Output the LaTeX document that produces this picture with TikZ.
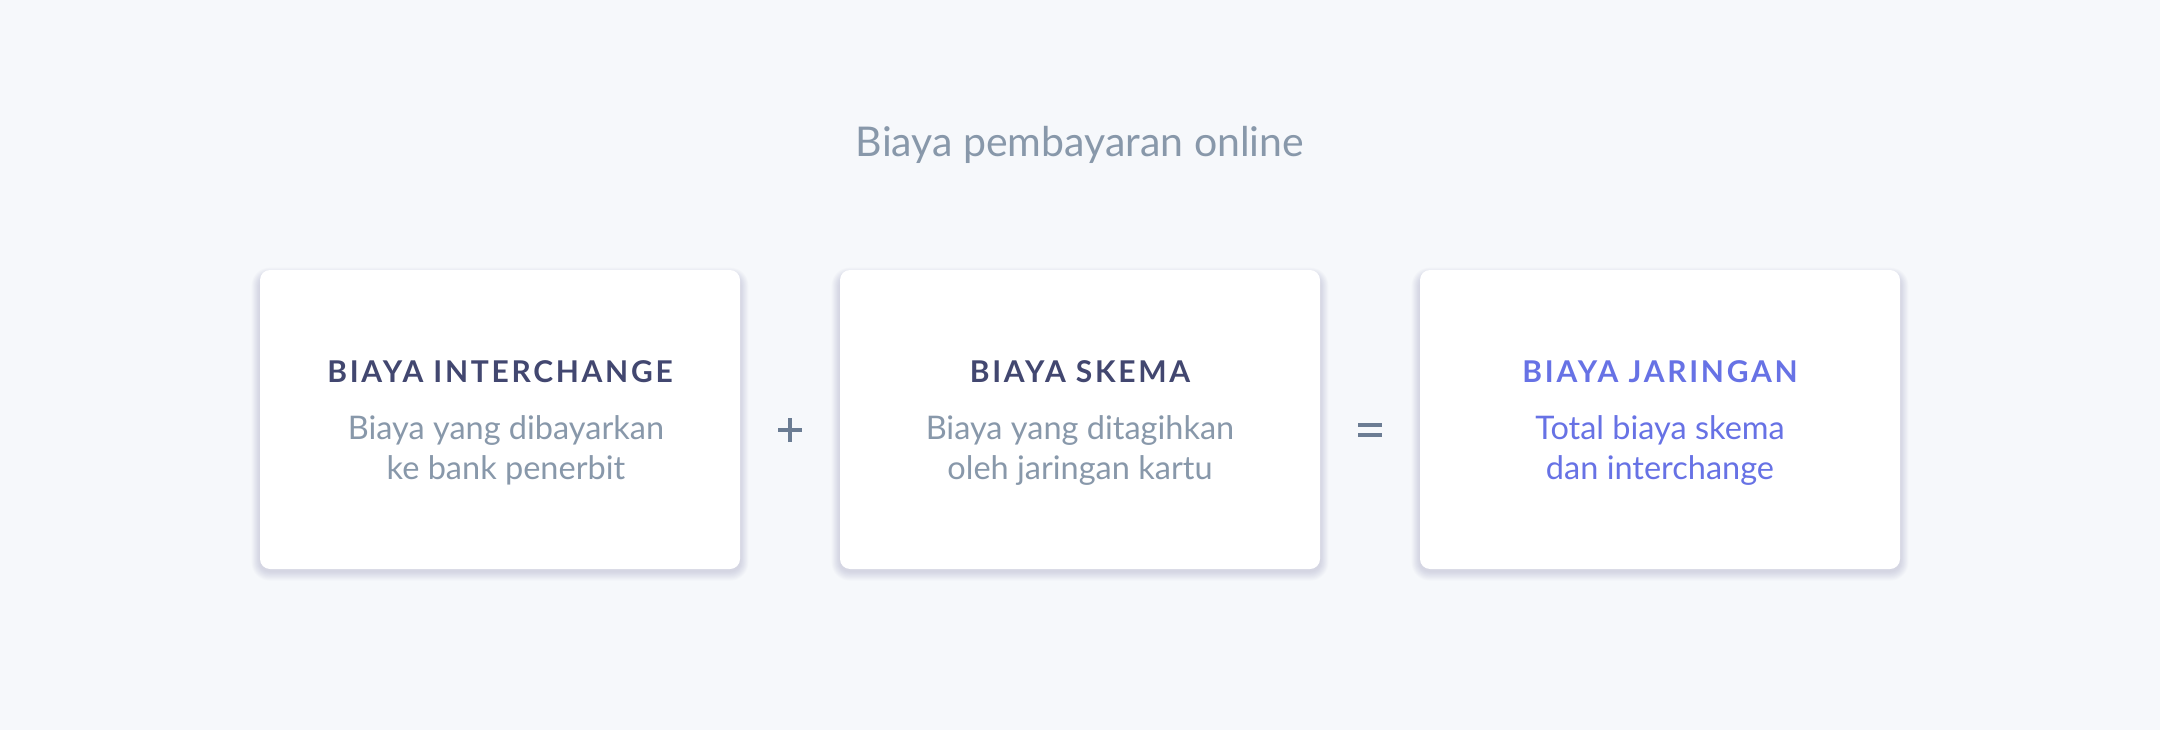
\documentclass[tikz,border=0pt]{standalone}
\usepackage{fontspec}
\setmainfont{Lato}
\usetikzlibrary{backgrounds}
\definecolor{bgc}{HTML}{F6F8FB}
\definecolor{headc}{HTML}{424770}
\definecolor{subc}{HTML}{8898AA}
\definecolor{blurple}{HTML}{6772E5}
\definecolor{opc}{HTML}{6B7C93}
\definecolor{shadowc}{HTML}{32325D}
\newcommand{\twolines}[2]{\vtop{\halign{\hfil##\hfil\cr#1\cr#2\cr}}}
\tikzset{
  card/.style={fill=white, rounded corners=10pt, minimum width=480pt, minimum height=299pt, inner sep=0pt},
  headtxt/.style={anchor=base, inner sep=0pt, font={\fontsize{30}{32}\selectfont\bfseries\addfontfeature{LetterSpace=9}}},
  subtxt/.style={anchor=base, inner sep=0pt, font={\fontsize{32.5}{40}\selectfont}},
  optxt/.style={line width=4pt, opc},
}
\newcommand{\cardshadow}[1]{%
  \foreach \b in {1,...,12}{%
    \fill[shadowc, opacity=0.01, rounded corners={10+0.7*\b}]
      ([shift={({-0.7*\b},{-0.7*\b+6})}]#1.north west) rectangle ([shift={({0.7*\b},{0.8*\b+2})}]#1.south east);
  }%
}
\begin{document}
\begin{tikzpicture}[x=1pt,y=-1pt]
\useasboundingbox (0,0) rectangle (2160,730);

\node[anchor=base, inner sep=0pt, text=subc, font={\fontsize{41}{44}\selectfont}] (title) at (1080,157) {Biaya pembayaran online};

\node[card] (c1) at (500,419.5) {};
\node[card] (c2) at (1080,419.5) {};
\node[card] (c3) at (1660,419.5) {};
\begin{pgfonlayer}{background}
  \fill[bgc] (0,0) rectangle (2160,730);
  \cardshadow{c1}
  \cardshadow{c2}
  \cardshadow{c3}
\end{pgfonlayer}

\node[headtxt, text=headc] (h1) at (500,382) {BIAYA INTERCHANGE};
\node[subtxt, text=subc] (s1) at (506,439) {\twolines{Biaya yang dibayarkan}{ke bank penerbit}};

\node[headtxt, text=headc] (h2) at (1080,382) {BIAYA SKEMA};
\node[subtxt, text=subc] (s2) at (1080,439) {\twolines{Biaya yang ditagihkan}{oleh jaringan kartu}};

\node[headtxt, text=blurple] (h3) at (1660,382) {BIAYA JARINGAN};
\node[subtxt, text=blurple] (s3) at (1660,439) {\twolines{Total biaya skema}{dan interchange}};

\coordinate (plus) at (790,430);
\draw[optxt] ([xshift=-12pt]plus) -- ([xshift=12pt]plus);
\draw[optxt] ([yshift=-12pt]plus) -- ([yshift=12pt]plus);

\coordinate (eq) at (1370,430);
\draw[optxt] ([shift={(-12,-5)}]eq) -- ([shift={(12,-5)}]eq);
\draw[optxt] ([shift={(-12,5)}]eq) -- ([shift={(12,5)}]eq);
\end{tikzpicture}
\end{document}
